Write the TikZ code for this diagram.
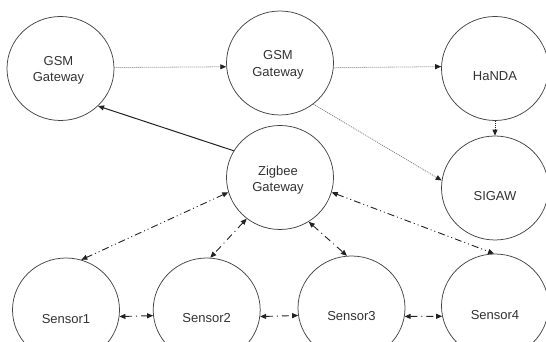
\documentclass[tikz,border=0pt]{standalone}
\usepackage{fontspec}
\setmainfont{Liberation Sans}
\usetikzlibrary{shapes.geometric,arrows.meta}
\definecolor{circ}{HTML}{444444}
\definecolor{txtc}{HTML}{333333}
\definecolor{dotc}{HTML}{808080}
\definecolor{linec}{HTML}{222222}
\tikzset{
  unit/.style={ellipse, draw=circ, line width=0.75pt, minimum width=107pt, minimum height=104pt, inner sep=0pt},
  txt/.style={text=txtc, font=\fontsize{13}{16.4}\selectfont, align=center, inner sep=0pt},
  tip/.style={-{Triangle[length=6pt,width=5pt,color=linec]}},
  dottedlink/.style={tip, draw=dotc, line width=0.8pt, dash pattern=on 1pt off 1pt},
  solidlink/.style={tip, draw=linec, line width=1pt},
  ddlink/.style={{Triangle[length=6pt,width=5pt]}-{Triangle[length=6pt,width=5pt]}, draw=linec, line width=0.9pt, dash pattern=on 7pt off 3pt on 1pt off 3pt on 1pt off 3pt},
  shortlink/.style={{Triangle[length=6pt,width=5pt]}-{Triangle[length=6pt,width=5pt]}, draw=linec, line width=0.9pt, dash pattern=on 7pt off 4pt on 1pt off 4pt}
}
\begin{document}
\begin{tikzpicture}[x=1pt,y=1pt]
\clip (0,0) rectangle (546,342);
\fill[white] (0,0) rectangle (546,342);
% nodes
\node[unit, label={[txt,yshift=-2pt,xshift=-2pt]center:GSM\\Gateway}] (gsm1) at (60.5,273.5) {};
\node[unit, label={[txt,yshift=-2pt,xshift=-2pt]center:GSM\\Gateway}] (gsm2) at (280,279) {};
\node[unit, label={[txt,yshift=-8pt]center:HaNDA}] (handa) at (495,273.5) {};
\node[unit, label={[txt,yshift=-8.5pt]center:SIGAW}] (sigaw) at (495,154) {};
\node[unit, label={[txt,yshift=-2.5pt,xshift=-2pt]center:Zigbee\\Gateway}] (zig) at (280,164.5) {};
\node[unit, label={[txt,yshift=-9.5pt]center:Sensor1}] (s1) at (66,32) {};
\node[unit, label={[txt,yshift=-8pt]center:Sensor2}] (s2) at (206.7,32) {};
\node[unit, label={[txt,yshift=-8pt]center:Sensor3}] (s3) at (351.5,34) {};
\node[unit, label={[txt,yshift=-9pt]center:Sensor4}] (s4) at (495,36) {};
% connectors
\draw[dottedlink] (gsm1.1.7) -- (gsm2.184.4);
\draw[dottedlink] (gsm2.355.6) -- (handa.178.3);
\draw[dottedlink] (gsm2.309.5) -- (sigaw.172.5);
\draw[tip, draw=linec, line width=0.8pt, dash pattern=on 1pt off 1pt] (handa.south) -- (sigaw.north);
\draw[solidlink] (zig.150.4) -- (gsm1.315);
\draw[ddlink] (zig.196.6) -- (s1.73.6);
\draw[shortlink] (zig.231.4) -- (s2.86.8);
\draw[shortlink] (zig.303.4) -- (s3.95.8);
\draw[ddlink] (zig.344.3) -- (s4.91.5);
\draw[shortlink] (s1.353.4) -- (s2.186.6);
\draw[shortlink] (s2.353.4) -- (s3.188.8);
\draw[shortlink] (s3.351.2) -- (s4.191);
\end{tikzpicture}
\end{document}
